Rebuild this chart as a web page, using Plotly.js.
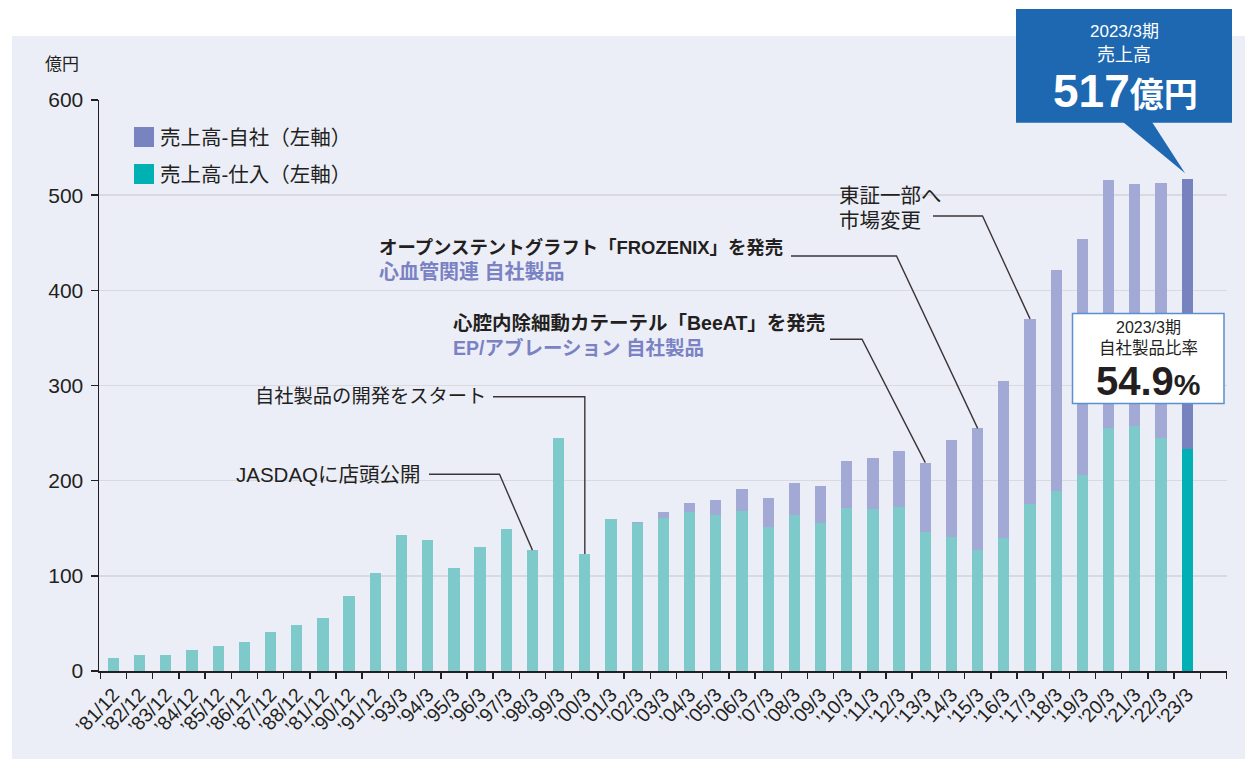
<!DOCTYPE html>
<html>
<head>
<meta charset="utf-8">
<script src="https://cdn.plot.ly/plotly-3.0.1.min.js"></script>
<style>html,body{margin:0;padding:0;background:#fff;}#chart{width:1245px;height:759px;}</style>
</head>
<body>
<div id="chart"></div>
<script>
// ---- data ----
const categories = ["’81/12","’82/12","’83/12","’84/12","’85/12","’86/12","’87/12","’88/12","’81/12","’90/12","’91/12",
  "’93/3","’94/3","’95/3","’96/3","’97/3","’98/3","’99/3","’00/3","’01/3","’02/3","’03/3","’04/3","’05/3","’06/3",
  "’07/3","’08/3","’09/3","’10/3","’11/3","’12/3","’13/3","’14/3","’15/3","’16/3","’17/3","’18/3","’19/3","’20/3",
  "’21/3","’22/3","’23/3"];
// 売上高-仕入 (億円)
const purchase = [14,17,17,22,26,30,41,48,56,79,103,143,138,108,130,149,127,245,123,160,155,161,167,164,168,151,164,155,171,170,172,146,141,127,140,175,189,206,255,257,245,233];
// 売上高-自社 (億円)
const own = [0,0,0,0,0,0,0,0,0,0,0,0,0,0,0,0,0,0,0,0,2,6,10,16,23,31,34,39,50,54,59,73,102,128,165,195,232,248,261,255,268,284];
const seriesNames = ["売上高-自社（左軸）","売上高-仕入（左軸）"];
const yTicks = [0,100,200,300,400,500,600];

// ---- helpers ----
const FONT = "Liberation Sans, Noto Sans CJK JP, sans-serif";
const DARK = "#231F20";
const XR = [-0.55, 42.52];
const PL = 99, PW = 1128, PT = 100, PH = 571;
const PX = px => (px - PL) / PW;
const PY = py => (PT + PH - py) / PH;
const DX = px => XR[0] + (px - PL) / PW * (XR[1] - XR[0]);
const DY = py => (PT + PH - py) / PH * 600;

const n = categories.length;
const last = n - 1;
const idx = categories.map((_, i) => i);
const total = purchase.map((v, i) => v + own[i]);
const purchaseColors = idx.map(i => i === last ? "#00B0B5" : "#7ECACA");
const ownColors = idx.map(i => i === last ? "#7683BF" : "#A2A9D5");

const traces = [
  {type: "bar", name: seriesNames[1], x: idx, y: purchase, width: 0.43,
   marker: {color: purchaseColors, line: {width: 0}}, showlegend: false, hoverinfo: "y"},
  {type: "bar", name: seriesNames[0], x: idx, y: own, width: 0.43,
   marker: {color: ownColors, line: {width: 0}}, showlegend: false, hoverinfo: "y"}
];

function leader(x0px, ypx, elbowPx, cat, vertical) {
  const i = categories.indexOf(cat);
  const ex = i, ey = total[i];
  const ax = DX(x0px), ay = DY(ypx), bx = vertical ? ex : DX(elbowPx);
  return {type: "path", xref: "x", yref: "y", layer: "above",
    path: `M ${ax},${ay} L ${bx},${ay} L ${ex},${ey}`,
    line: {color: "#3B3537", width: 1.4}};
}

const shapes = [
  // background panel
  {type: "rect", xref: "paper", yref: "paper", x0: PX(12), x1: PX(1260), y0: PY(36), y1: PY(780),
   fillcolor: "#ECEEF7", line: {width: 0}, layer: "below"},
  // legend swatches
  {type: "rect", xref: "paper", yref: "paper", x0: PX(134), x1: PX(154), y0: PY(127), y1: PY(147),
   fillcolor: "#7784BF", line: {width: 0}},
  {type: "rect", xref: "paper", yref: "paper", x0: PX(134), x1: PX(154), y0: PY(164), y1: PY(184),
   fillcolor: "#00B1B4", line: {width: 0}},
  // leaders
  leader(429, 474.3, 499.5, "’98/3", false),
  leader(493, 396.7, null, "’00/3", true),
  leader(791, 256, 896.5, "’15/3", false),
  leader(830, 339.3, 862, "’13/3", false),
  leader(933, 216, 982.5, "’17/3", false),
  // blue callout
  {type: "rect", xref: "paper", yref: "paper", x0: PX(1016), x1: PX(1232), y0: PY(9), y1: PY(122.7),
   fillcolor: "#1D68B1", line: {width: 0}, layer: "above"},
  {type: "path", xref: "x", yref: "y", layer: "above",
   path: `M ${DX(1123)},${DY(122)} L ${DX(1152)},${DY(122)} L ${last - 0.08},${total[last] + 6} Z`,
   fillcolor: "#1D68B1", line: {width: 0}},
  // ratio box
  {type: "rect", xref: "paper", yref: "paper", x0: PX(1072.5), x1: PX(1224), y0: PY(313.5), y1: PY(403.5),
   fillcolor: "#FFFFFF", line: {color: "#5B8FD0", width: 1.5}, layer: "above"}
];

function ann(text, px, py, opts) {
  return Object.assign({text: text, xref: "paper", yref: "paper", x: PX(px), y: PY(py),
    xanchor: "left", yanchor: "middle", showarrow: false,
    font: {family: FONT, size: 18, color: DARK}}, opts || {});
}
const f = (size, color) => ({family: FONT, size: size, color: color || DARK});
const BLUE_TXT = "#7A82C4";
const annotations = [
  ann("億円", 43, 64.5, {font: f(17)}),
  ann(seriesNames[0], 158, 137, {font: f(20.5)}),
  ann(seriesNames[1], 158, 174, {font: f(20.5)}),
  ann("JASDAQに店頭公開", 423, 474, {xanchor: "right", font: f(20.5)}),
  ann("自社製品の開発をスタート", 488, 396.5, {xanchor: "right", font: f(19.3)}),
  ann("<b>オープンステントグラフト「FROZENIX」を発売</b>", 377, 247, {font: f(18.4)}),
  ann("<b>心血管関連 自社製品</b>", 377, 271.5, {font: f(20, BLUE_TXT)}),
  ann("<b>心腔内除細動カテーテル「BeeAT」を発売</b>", 451, 323, {font: f(19.5)}),
  ann("<b>EP/アブレーション 自社製品</b>", 451, 347.5, {font: f(19.5, BLUE_TXT)}),
  ann("東証一部へ", 837, 195, {font: f(20.5)}),
  ann("市場変更", 837, 220.5, {font: f(20.5)}),
  ann("2023/3期", 1124, 31.5, {xanchor: "center", font: f(17, "#FFFFFF")}),
  ann("売上高", 1124, 55, {xanchor: "center", font: f(18, "#FFFFFF")}),
  ann("<b>517<span style='font-size:34px'>億円</span></b>", 1125, 91, {xanchor: "center", font: f(46, "#FFFFFF")}),
  ann("2023/3期", 1148, 327, {xanchor: "center", font: f(16)}),
  ann("自社製品比率", 1148, 348, {xanchor: "center", font: f(16.5)}),
  ann("<b>54.9<span style='font-size:30px'>%</span></b>", 1148, 381, {xanchor: "center", font: f(40)})
];

const layout = {
  width: 1245, height: 759, autosize: false,
  margin: {l: PL, r: 1245 - PL - PW, t: PT, b: 759 - PT - PH, pad: 0},
  paper_bgcolor: "#FFFFFF", plot_bgcolor: "rgba(0,0,0,0)",
  barmode: "stack", bargap: 0.5,
  showlegend: false,
  font: {family: FONT, color: DARK},
  xaxis: {range: XR, tickmode: "array", tickvals: idx, ticktext: categories, tickangle: -47,
    ticks: "", showline: true, linecolor: DARK, linewidth: 1.5, showgrid: false, zeroline: false,
    tickfont: {family: FONT, size: 19.5, color: DARK}, ticklabelstandoff: 3,
    minor: {tickmode: "linear", tick0: 0.5, dtick: 1, ticks: "outside", ticklen: 6, tickwidth: 1.5, tickcolor: DARK, showgrid: false}},
  yaxis: {range: [0, 600], tickmode: "array", tickvals: yTicks, ticks: "outside", ticklen: 7, tickwidth: 1.5, tickcolor: DARK,
    showline: true, linecolor: DARK, linewidth: 1.5, showgrid: true, gridcolor: "#D9D9DF", gridwidth: 1.5, zeroline: false,
    tickfont: {family: FONT, size: 21, color: DARK}, ticklabelstandoff: 3},
  shapes: shapes,
  annotations: annotations
};

Plotly.newPlot("chart", traces, layout, {displayModeBar: false, staticPlot: true});
</script>
</body>
</html>
